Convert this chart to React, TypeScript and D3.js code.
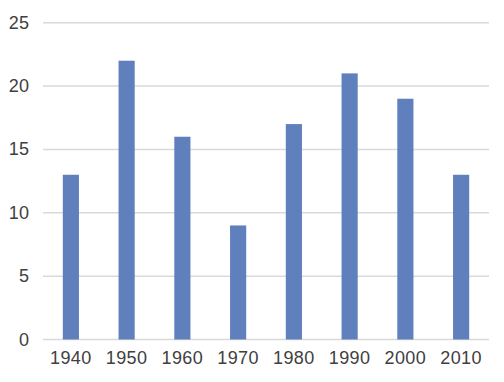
import React from "react";
import * as d3 from "d3";

const categories = ["1940", "1950", "1960", "1970", "1980", "1990", "2000", "2010"];
const values = [13, 22, 16, 9, 17, 21, 19, 13];
const yTicks = [0, 5, 10, 15, 20, 25];

const W = 504;
const H = 382;
const margin = { left: 43, right: 15, top: 22.7, bottom: 42.5 };

export default function App() {
  const x = d3
    .scaleBand<string>()
    .domain(categories)
    .range([margin.left, W - margin.right])
    .paddingInner(0.71)
    .paddingOuter(0.355);
  const y = d3.scaleLinear().domain([0, 25]).range([H - margin.bottom, margin.top]);

  return (
    <svg
      width={W}
      height={H}
      style={{ position: "absolute", left: 0, top: 0, background: "#fff" }}
      fontFamily="'Liberation Sans', Arial, Helvetica, sans-serif"
    >
      {yTicks.map((t) => (
        <g key={t}>
          <line
            x1={margin.left}
            x2={W - margin.right}
            y1={y(t)}
            y2={y(t)}
            stroke="#d9d9d9"
            strokeWidth={1.5}
          />
          <text
            x={29.5}
            y={y(t)}
            textAnchor="end"
            dominantBaseline="central"
            fontSize={18}
            letterSpacing={0.4}
            fill="#404040"
          >
            {t}
          </text>
        </g>
      ))}
      {categories.map((c, i) => (
        <rect
          key={c}
          x={x(c)}
          y={y(values[i])}
          width={x.bandwidth()}
          height={y(0) - y(values[i])}
          fill="#6080bd"
        />
      ))}
      {categories.map((c) => (
        <text
          key={c}
          x={(x(c) as number) + x.bandwidth() / 2}
          y={364.3}
          textAnchor="middle"
          fontSize={18}
          letterSpacing={0.4}
          fill="#404040"
        >
          {c}
        </text>
      ))}
    </svg>
  );
}
